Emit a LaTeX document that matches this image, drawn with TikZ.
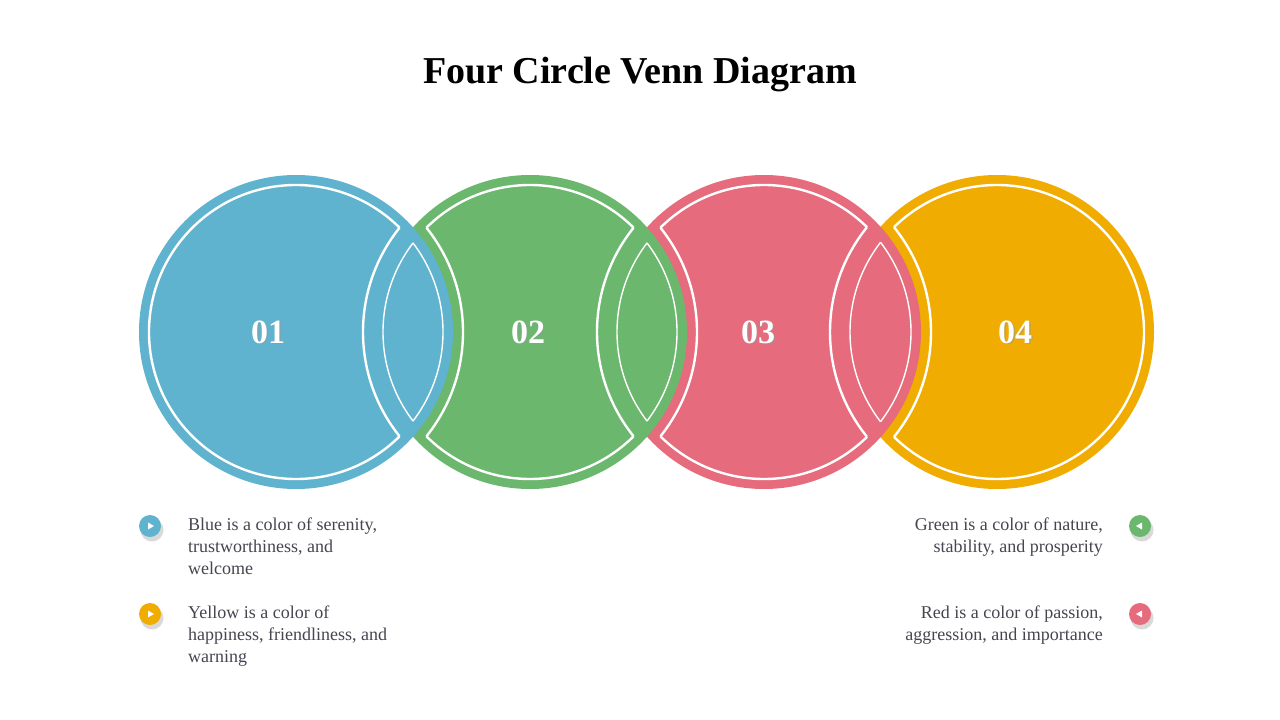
\documentclass[tikz,border=0pt]{standalone}
\usepackage{fontspec}
\setmainfont{Liberation Serif}
\definecolor{cblue}{HTML}{5FB3CE}
\definecolor{cgreen}{HTML}{6BB76E}
\definecolor{cred}{HTML}{E66B7C}
\definecolor{cyellow}{HTML}{F0AC00}
\definecolor{ctext}{HTML}{454550}
\tikzset{
    disc/.style={fill=#1},
    outline/.style={draw=white, line width=2.4pt},
    lensline/.style={draw=white, line width=1.4pt},
    number/.style={text=white, font=\fontsize{34}{34}\selectfont\bfseries},
    bullet/.style={circle, fill=#1, minimum size=22pt, inner sep=0pt},
    note/.style={text=ctext, font=\fontsize{18}{22}\selectfont, align=left, inner sep=0pt}
}
\begin{document}
\begin{tikzpicture}[x=1pt, y=-1pt]
    \useasboundingbox (0,0) rectangle (1280,720);
    \node[font=\fontsize{38}{38}\selectfont\bfseries] (title) at (640,75) {Four Circle Venn Diagram};

    % circle centres
    \coordinate (c1) at (296,332);
    \coordinate (c2) at (530,332);
    \coordinate (c3) at (764,332);
    \coordinate (c4) at (997,332);

    % discs, drawn right to left
    \fill[disc=cyellow] (c4) circle (157);
    \fill[disc=cred] (c3) circle (157);
    \fill[disc=cgreen] (c2) circle (157);
    \fill[disc=cblue] (c1) circle (157);

    % white outlines
    \begin{scope}[even odd rule]
        \clip (0,0) rectangle (1280,720) (c2) circle (167);
        \draw[outline] (c1) circle (147);
    \end{scope}
    \begin{scope}[even odd rule]
        \clip (0,0) rectangle (1280,720) (c1) circle (167) (c3) circle (167);
        \draw[outline] (c2) circle (147);
    \end{scope}
    \begin{scope}[even odd rule]
        \clip (0,0) rectangle (1280,720) (c2) circle (167) (c4) circle (167);
        \draw[outline] (c3) circle (147);
    \end{scope}
    \begin{scope}[even odd rule]
        \clip (0,0) rectangle (1280,720) (c3) circle (167);
        \draw[outline] (c4) circle (147);
    \end{scope}
    \foreach \a/\b in {c1/c2, c2/c3, c3/c4} {
        % concave edges and lens
        \begin{scope}
            \clip (\a) circle (147);
            \draw[outline] (\b) circle (167);
            \draw[lensline] (\b) circle (147);
        \end{scope}
        \begin{scope}
            \clip (\b) circle (147);
            \draw[outline] (\a) circle (167);
            \draw[lensline] (\a) circle (147);
        \end{scope}
    }

    % numbers
    \foreach \c/\n/\dx in {c1/01/-28, c2/02/-2, c3/03/-6, c4/04/18} {
        \node[number, text=black!40, opacity=0.5] at ([xshift=\dx pt+1.5pt, yshift=-1.5pt]\c) {\n};
        \node[number] (n\n) at ([xshift=\dx pt]\c) {\n};
    }

    % notes
    \foreach \name/\col/\y in {b1/cblue/526, b4/cyellow/614} {
        \fill[black!15] (152,\y+4) circle (11.5);
        \node[bullet=\col] (\name) at (150,\y) {};
        \fill[white] ([xshift=-2pt, yshift=3.5pt]\name.center) -- ([xshift=4pt]\name.center) -- ([xshift=-2pt, yshift=-3.5pt]\name.center) -- cycle;
    }
    \foreach \name/\col/\y in {b2/cgreen/526, b3/cred/614} {
        \fill[black!15] (1142,\y+4) circle (11.5);
        \node[bullet=\col] (\name) at (1140,\y) {};
        \fill[white] ([xshift=2pt, yshift=3.5pt]\name.center) -- ([xshift=-4pt]\name.center) -- ([xshift=2pt, yshift=-3.5pt]\name.center) -- cycle;
    }
    \node[note, anchor=north west] (t1) at (188,518) {Blue is a color of serenity,\\trustworthiness, and\\welcome};
    \node[note, anchor=north west] (t4) at (188,606) {Yellow is a color of\\happiness, friendliness, and\\warning};
    \node[note, anchor=north east, align=right] (t2) at (1103,518) {Green is a color of nature,\\stability, and prosperity};
    \node[note, anchor=north east, align=right] (t3) at (1103,606) {Red is a color of passion,\\aggression, and importance};
\end{tikzpicture}
\end{document}
